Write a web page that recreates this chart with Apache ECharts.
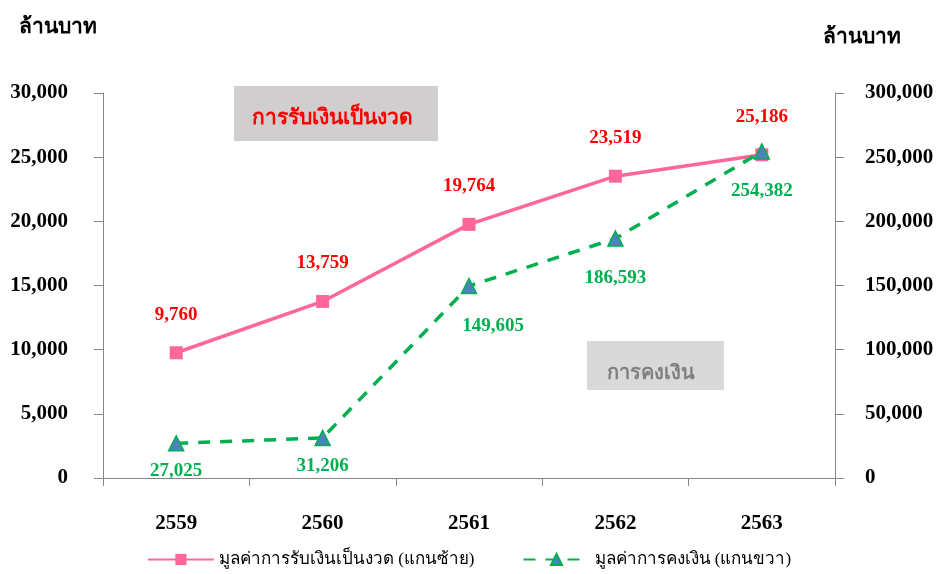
<!DOCTYPE html>
<html><head><meta charset="utf-8">
<script src="https://cdn.jsdelivr.net/npm/echarts@6/dist/echarts.min.js"></script>
<style>html,body{margin:0;padding:0;background:#fff}#c{width:938px;height:574px}</style>
</head><body><div id="c"></div>
<script>
const categories = ['2559', '2560', '2561', '2562', '2563'];
const installmentValues = [9760, 13759, 19764, 23519, 25186];
const retainedValues = [27025, 31206, 149605, 186593, 254382];
const leftTicks = [0, 5000, 30000];
const rightTicks = [0, 50000, 300000];
const seriesNames = ['มูลค่าการรับเงินเป็นงวด (แกนซ้าย)', 'มูลค่าการคงเงิน (แกนขวา)'];

const serif = '"Liberation Serif","Times New Roman",serif';
const fmt = v => v.toLocaleString('en-US');
const chart = echarts.init(document.getElementById('c'));
const axisLine = {show: true, lineStyle: {color: '#868686', width: 1}};
const greenDist = [10, 10, 22, 22, 22];
chart.setOption({
  animation: false,
  title: [
    {text: 'ล้านบาท', left: 14, top: 12, textStyle: {fontFamily: serif, fontSize: 21, fontWeight: 'bold', color: '#000'}},
    {text: 'ล้านบาท', left: 818, top: 22, textStyle: {fontFamily: serif, fontSize: 21, fontWeight: 'bold', color: '#000'}}
  ],
  grid: {left: 103, right: 103, top: 93, bottom: 96},
  legend: {
    bottom: 1, left: 'center', itemGap: 48, itemWidth: 66, itemHeight: 14,
    textStyle: {fontFamily: serif, fontSize: 17, color: '#000'},
    data: [
      {name: seriesNames[0]},
      {name: seriesNames[1]}
    ]
  },
  xAxis: {
    type: 'category', data: categories, boundaryGap: true,
    axisLine: axisLine,
    axisTick: {show: true, length: 8, inside: false, lineStyle: {color: '#868686'}},
    axisLabel: {fontFamily: serif, fontSize: 21, fontWeight: 'bold', color: '#000', margin: 35}
  },
  yAxis: [
    {
      type: 'value', min: leftTicks[0], max: leftTicks[2], interval: leftTicks[1],
      axisLine: axisLine,
      axisTick: {show: true, length: 9, lineStyle: {color: '#868686'}},
      splitLine: {show: false},
      axisLabel: {fontFamily: serif, fontSize: 21, fontWeight: 'bold', color: '#000', margin: 35, formatter: v => fmt(v)}
    },
    {
      type: 'value', min: rightTicks[0], max: rightTicks[2], interval: rightTicks[1], position: 'right',
      axisLine: axisLine,
      axisTick: {show: true, length: 9, lineStyle: {color: '#868686'}},
      splitLine: {show: false},
      axisLabel: {fontFamily: serif, fontSize: 21, fontWeight: 'bold', color: '#000', margin: 30, formatter: v => fmt(v)}
    }
  ],
  series: [
    {
      name: seriesNames[0], type: 'line', yAxisIndex: 0, data: installmentValues,
      symbol: 'rect', symbolSize: 13,
      lineStyle: {color: '#FF6699', width: 3.5},
      itemStyle: {color: '#FF6699'},
      label: {show: true, position: 'top', distance: 22, fontFamily: serif, fontSize: 19, fontWeight: 'bold', color: '#FF0000', formatter: p => fmt(p.value)},
      z: 3
    },
    {
      name: seriesNames[1], type: 'line', yAxisIndex: 1,
      data: retainedValues.map((v, i) => ({value: v, label: {distance: greenDist[i], offset: i === 2 ? [24, 0] : [0, 0]}})),
      symbol: 'triangle', symbolSize: 15,
      lineStyle: {color: '#00B050', width: 3.5, type: [12, 10]},
      itemStyle: {color: '#4F81BD', borderColor: '#00B050', borderWidth: 1.5},
      label: {show: true, position: 'bottom', distance: 14, fontFamily: serif, fontSize: 19, fontWeight: 'bold', color: '#00B050', formatter: p => fmt(p.value)},
      z: 4
    }
  ],
  graphic: [
    {type: 'rect', left: 234, top: 86, shape: {width: 204, height: 55}, style: {fill: '#D0CECE'}, z: 1},
    {type: 'text', left: 252, top: 108, style: {text: 'การรับเงินเป็นงวด', fill: '#FF0000', font: 'bold 21px ' + serif}, z: 2},
    {type: 'rect', left: 587, top: 341, shape: {width: 137, height: 49}, style: {fill: '#D9D9D9'}, z: 1},
    {type: 'text', left: 607, top: 364, style: {text: 'การคงเงิน', fill: '#808080', font: 'bold 20px ' + serif}, z: 2}
  ]
});
</script></body></html>
